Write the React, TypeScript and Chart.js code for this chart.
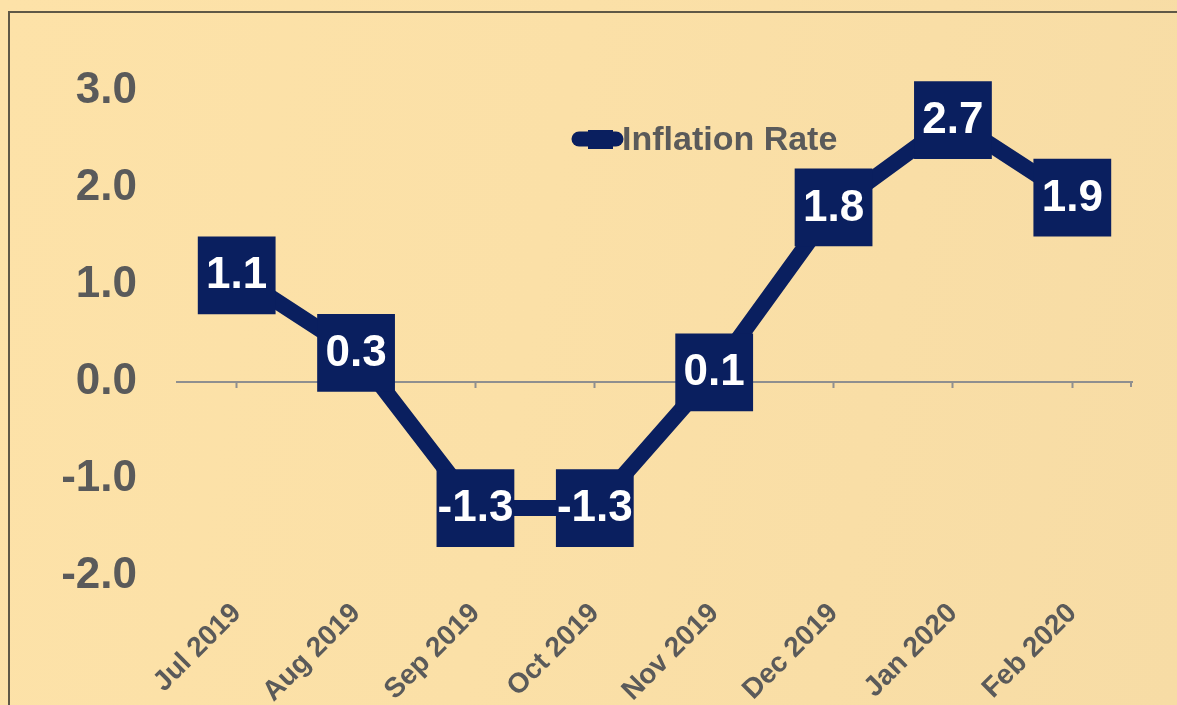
import React, { useEffect, useRef } from "react";
import { Chart, registerables } from "chart.js";

Chart.register(...registerables);

const categories = ["Jul 2019", "Aug 2019", "Sep 2019", "Oct 2019", "Nov 2019", "Dec 2019", "Jan 2020", "Feb 2020"];
const inflationRate = [1.1, 0.3, -1.3, -1.3, 0.1, 1.8, 2.7, 1.9];
const seriesLabel = "Inflation Rate";
const yMin = -2;
const yMax = 3;
const yStep = 1;

const NAVY = "#0a1f5f";
const GRAY = "#5a5a5a";
const AXIS_GRAY = "#8f8f8f";
const FONT = "'Liberation Sans', Arial, Helvetica, sans-serif";

const valueLabels = {
  id: "valueLabels",
  afterDatasetsDraw(chart: any) {
    const ctx = chart.ctx;
    const meta = chart.getDatasetMeta(0);
    const data = chart.data.datasets[0].data as number[];
    ctx.save();
    ctx.fillStyle = "#ffffff";
    ctx.font = `bold 44px ${FONT}`;
    ctx.textAlign = "center";
    ctx.textBaseline = "middle";
    meta.data.forEach((pt: any, i: number) => {
      ctx.fillText(Number(data[i]).toFixed(1), pt.x, pt.y + 1);
    });
    ctx.restore();
  },
};

const axisEndTick = {
  id: "axisEndTick",
  beforeDatasetsDraw(chart: any) {
    const ctx = chart.ctx;
    const y0 = chart.scales.y.getPixelForValue(0);
    const xr = chart.chartArea.right;
    ctx.save();
    ctx.strokeStyle = AXIS_GRAY;
    ctx.lineWidth = 2;
    ctx.beginPath();
    ctx.moveTo(xr - 1, y0 - 1);
    ctx.lineTo(xr - 1, y0 + 5);
    ctx.stroke();
    ctx.restore();
  },
};

const insideLegend = {
  id: "insideLegend",
  afterDraw(chart: any) {
    const ctx = chart.ctx;
    const ds = chart.data.datasets[0];
    const cy = 139;
    const x0 = 579;
    const x1 = 616;
    ctx.save();
    ctx.strokeStyle = ds.borderColor;
    ctx.lineWidth = 15;
    ctx.lineCap = "round";
    ctx.beginPath();
    ctx.moveTo(x0, cy);
    ctx.lineTo(x1, cy);
    ctx.stroke();
    ctx.fillStyle = ds.borderColor;
    ctx.fillRect(588, cy - 9, 25, 19);
    ctx.fillStyle = GRAY;
    ctx.font = `bold 34px ${FONT}`;
    ctx.textAlign = "left";
    ctx.textBaseline = "middle";
    ctx.fillText(ds.label, 622, cy + 2);
    ctx.restore();
  },
};

export default function App() {
  const canvasRef = useRef<HTMLCanvasElement | null>(null);

  useEffect(() => {
    if (!canvasRef.current) return;
    const chart = new Chart(canvasRef.current, {
      type: "line",
      data: {
        labels: categories,
        datasets: [
          {
            label: seriesLabel,
            data: inflationRate,
            borderColor: NAVY,
            backgroundColor: NAVY,
            borderWidth: 16,
            tension: 0,
            pointStyle: "rect",
            pointRadius: 55,
            pointHoverRadius: 55,
            pointBorderWidth: 0,
            pointBackgroundColor: NAVY,
            clip: false as any,
            xAxisID: "x",
            yAxisID: "y",
          },
        ],
      },
      options: {
        responsive: false,
        animation: false,
        events: [],
        layout: { autoPadding: false, padding: { top: 91, right: 45, left: 0, bottom: 0 } } as any,
        plugins: {
          legend: { display: false },
          tooltip: { enabled: false },
        },
        scales: {
          x: {
            type: "category",
            position: "bottom",
            offset: true,
            grid: { display: false },
            border: { display: false },
            ticks: {
              color: GRAY,
              font: { family: FONT, size: 28, weight: "bold" },
              minRotation: 45,
              maxRotation: 45,
              autoSkip: false,
              padding: 13,
            },
            afterFit(scale: any) {
              scale.height = 129;
            },
          },
          x2: {
            type: "category",
            axis: "x",
            position: { y: 0 } as any,
            offset: true,
            grid: {
              display: true,
              drawOnChartArea: false,
              drawTicks: true,
              tickLength: 5,
              tickWidth: 2,
              tickColor: AXIS_GRAY,
              offset: false,
            },
            border: { display: true, color: AXIS_GRAY, width: 2 },
            ticks: { display: false },
          } as any,
          y: {
            type: "linear",
            min: yMin,
            max: yMax,
            grid: { display: false },
            border: { display: false },
            ticks: {
              stepSize: yStep,
              color: GRAY,
              font: { family: FONT, size: 44, weight: "bold" },
              padding: 32,
              callback: (v: any) => Number(v).toFixed(1),
            },
            afterFit(scale: any) {
              scale.width = 177;
            },
          },
        },
      },
      plugins: [axisEndTick, valueLabels, insideLegend],
    });
    return () => chart.destroy();
  }, []);

  return (
    <div
      style={{
        position: "fixed",
        left: 0,
        top: 0,
        width: 1177,
        height: 705,
        overflow: "hidden",
        background: "linear-gradient(100deg, #fde2a8 0%, #fbe0a7 45%, #f7dca5 100%)",
      }}
    >
      <div
        style={{
          position: "absolute",
          left: 8,
          top: 11,
          width: 1200,
          height: 720,
          borderTop: "2px solid #5f5846",
          borderLeft: "2px solid #5f5846",
        }}
      />
      <canvas
        ref={canvasRef}
        width={1177}
        height={705}
        style={{ position: "absolute", left: 0, top: 0, width: 1177, height: 705 }}
      />
    </div>
  );
}
